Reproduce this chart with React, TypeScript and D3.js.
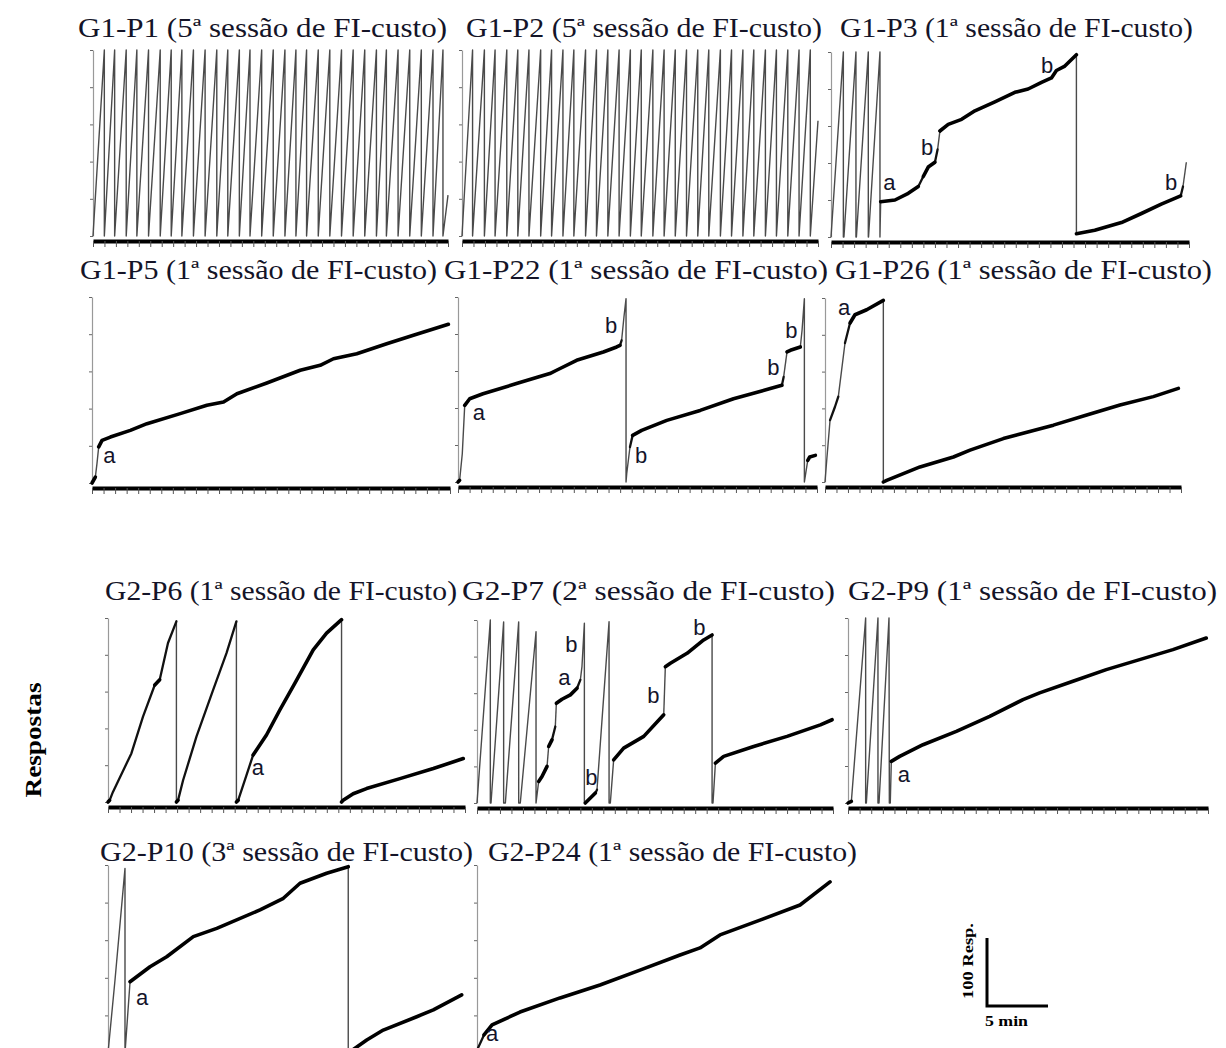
import { useEffect, useMemo, useRef } from 'react'
import * as d3 from 'd3'

const X_MAX = 31 // ticks on the time axis
const Y_MAX = 100 // pen height, % of the record

// FI baseline records: times at which the pen reset, and height of the last partial tooth
const p1Resets = [0.99, 1.89, 2.9, 3.83, 4.85, 5.87, 6.83, 7.76, 8.77, 9.79, 10.81, 11.77, 12.78, 13.71, 14.73, 15.74, 16.76, 17.72, 18.65, 19.67, 20.68, 21.7, 22.72, 23.73, 24.75, 25.62, 26.64, 27.66, 28.67, 29.69, 30.56]
const p1Tail = 22
const p2Resets = [0.92, 1.95, 2.88, 3.9, 4.86, 5.83, 6.85, 7.8, 8.79, 9.74, 10.76, 11.71, 12.7, 13.68, 14.66, 15.61, 16.62, 17.6, 18.57, 19.55, 20.53, 21.49, 22.5, 23.47, 24.46, 25.41, 26.42, 27.38, 28.37, 29.35, 30.33]
const p2Tail = 62

const p3Record = [[0, 0], [1.07, 100], [1.07, 0], [1.12, 0], [2.16, 100], [2.16, 0], [2.2, 0], [3.23, 100], [3.23, 0], [3.25, 0], [4.24, 100], [4.24, 0], [4.3, 19.1], [5.54, 20], [6.69, 23.6], [7.56, 27.3], [7.99, 32.7], [8.42, 37.8], [9.0, 40.4], [9.23, 47.3], [9.43, 57.3], [10.15, 60.9], [11.31, 63.6], [12.46, 68.2], [14.19, 73.1], [15.92, 78.2], [17.07, 80], [18.23, 83.6], [19.09, 86], [19.52, 90], [20.25, 92.4], [21.25, 98.5], [21.25, 1.8], [22.84, 3.6], [25.15, 7.8], [26.88, 12.7], [28.6, 17.8], [30.28, 22.2], [30.48, 27.3], [30.77, 40.4]]
const p5Record = [[0, 0], [0.29, 3.2], [0.43, 10.4], [0.58, 19.4], [0.87, 22.9], [1.59, 24.7], [3.32, 28.3], [4.76, 31.9], [7.64, 37.3], [9.95, 41.8], [11.39, 43.5], [12.55, 48], [15.14, 53.8], [18.03, 60.6], [19.76, 63.3], [20.91, 66.8], [22.93, 69.5], [25.52, 74.9], [27.83, 79.4], [30.86, 85.3]]
const p22Record = [[0, 0], [0.14, 0.9], [0.37, 15.3], [0.58, 41.4], [1.01, 45], [2.16, 47.7], [5.05, 53.2], [7.93, 58.6], [8.51, 60.4], [10.24, 65.8], [12.55, 70.3], [13.7, 73], [13.99, 73.9], [14.13, 76.6], [14.33, 89.2], [14.51, 99.1], [14.51, 0], [14.57, 4.5], [14.85, 18.9], [15.08, 25.2], [15.86, 27.9], [18.03, 33.3], [20.91, 38.7], [23.79, 45], [26.97, 50.5], [27.97, 52.3], [28.12, 56.8], [28.41, 70.3], [28.7, 71.2], [29.56, 73], [29.71, 82], [29.91, 99.1], [29.91, 0], [30.2, 11.7], [30.37, 13.5], [30.86, 14.4]]
const p26Record = [[0, 0], [0.15, 11.8], [0.44, 33.6], [0.87, 40.9], [1.16, 46.4], [1.45, 60.9], [1.74, 75.5], [2.18, 86.4], [2.61, 90.9], [3.63, 93.6], [5.08, 98.7], [5.08, 0], [5.37, 0.9], [8.27, 8.2], [11.18, 13.6], [12.63, 17.3], [15.53, 23.6], [19.89, 30.9], [22.79, 36.4], [25.69, 41.8], [28.59, 46.4], [30.77, 50.9]]
const p6Record = [[0, 0], [0.14, 0.9], [0.43, 5.5], [2.03, 26.4], [3.04, 46.4], [4.06, 63.6], [4.49, 66.4], [5.21, 86.4], [5.94, 98.2], [5.94, 0], [6.08, 0.9], [6.52, 11.8], [7.68, 35.5], [9.13, 60.9], [10.29, 80.9], [11.15, 98.2], [11.15, 0], [11.3, 0.9], [12.02, 14.5], [12.6, 25.5], [13.76, 36.4], [14.92, 50], [16.22, 64.5], [17.82, 82.7], [18.98, 91.8], [20.28, 99.1], [20.28, 0], [20.42, 0.9], [21.29, 4.5], [22.45, 7.3], [25.35, 12.7], [28.25, 18.2], [30.85, 23.6]]
const p7Record = [[0, 0], [1.16, 100], [1.16, 0], [1.22, 0], [2.32, 99], [2.32, 0], [2.47, 0], [3.63, 99], [3.63, 0], [3.77, 0], [5.14, 93.6], [5.14, 0], [5.37, 11.8], [5.66, 14.5], [6.1, 20], [6.24, 30.9], [6.53, 34.5], [6.82, 41.8], [6.91, 54.5], [7.4, 56.7], [8.13, 59.1], [8.71, 62.7], [9.0, 67.3], [9.14, 74.5], [9.35, 98.2], [9.35, 0], [9.43, 0], [9.87, 2.7], [10.31, 5.5], [10.45, 7.3], [11.5, 99.1], [11.5, 0], [11.61, 0], [11.9, 23.6], [12.77, 30], [14.52, 36.4], [16.26, 48.2], [16.4, 74.5], [16.84, 76.4], [18.29, 81.8], [19.74, 89.1], [20.47, 91.8], [20.47, 0], [20.55, 0], [20.76, 21.8], [21.48, 25.5], [24.09, 30.9], [27.0, 36.4], [29.9, 42.7], [30.92, 45.5]]
const p9Record = [[0, 0], [0.29, 0.9], [1.52, 100], [1.52, 0], [1.58, 0], [2.58, 100], [2.58, 0], [2.67, 0], [3.53, 100], [3.56, 0], [3.64, 0], [3.73, 22.5], [4.45, 25.2], [6.46, 31.5], [9.33, 38.7], [12.2, 46.8], [15.07, 55.9], [16.5, 59.5], [19.37, 65.8], [22.24, 72.1], [25.11, 77.5], [27.98, 82.9], [30.85, 89.2]]
const p10Record = [[0, 0], [0.61, 38.8], [1.48, 98.2], [1.48, 0], [1.92, 37.9], [3.66, 45.9], [5.11, 51.2], [7.43, 61.9], [9.47, 66.3], [13.24, 76.1], [15.27, 82.3], [16.72, 90.3], [19.04, 95.6], [20.92, 99.1], [20.92, 0], [22.53, 6.9], [23.97, 12.2], [26.88, 19.3], [28.33, 22.9], [30.8, 30.9]]
const p24Record = [[0, 0], [0.09, 2.7], [0.61, 9.6], [1.31, 14.9], [3.74, 21.8], [7.23, 29.3], [10.71, 36.2], [14.19, 44.1], [17.68, 52.1], [19.42, 55.9], [21.16, 62.8], [24.64, 70.7], [28.13, 78.7], [30.74, 91]]

// a / b annotations: [letter, time, height]
const p3Labels = [['a', 4.52, 25.3], ['b', 7.8, 44.2], ['b', 18.19, 88.6], ['b', 28.92, 25.3]]
const p5Labels = [['a', 0.98, 10.6]]
const p22Labels = [['a', 1.27, 33.4], ['b', 12.69, 80.4], ['b', 15.29, 10.1], ['b', 26.7, 57.7], ['b', 28.26, 77.7]]
const p26Labels = [['a', 1.13, 90.8]]
const p6Labels = [['a', 12.49, 14.6]]
const p7Labels = [['b', 7.69, 82.5], ['a', 7.08, 64.6], ['b', 9.43, 10], ['b', 14.83, 54.7], ['b', 18.84, 91.8]]
const p9Labels = [['a', 4.28, 11.5]]
const p10Labels = [['a', 2.44, 25.5]]
const p24Labels = [['a', 0.78, 6.2]]

const sawtooth = (resets, tail) => {
  const pts = [[0, 0]]
  resets.forEach((r) => {
    pts.push([r, Y_MAX])
    pts.push([r, 0])
  })
  pts.push([X_MAX, tail])
  return pts
}

const PANELS = [
  { title: 'G1-P1 (5ª sessão de FI-custo)', record: sawtooth(p1Resets, p1Tail), labels: [], box: { x0: 93, x1: 448, top: 50, base: 236 }, tb: { x: 78, y: 37, w: 369 } },
  { title: 'G1-P2 (5ª sessão de FI-custo)', record: sawtooth(p2Resets, p2Tail), labels: [], box: { x0: 462, x1: 818, top: 50, base: 236 }, tb: { x: 466, y: 37, w: 356 } },
  { title: 'G1-P3 (1ª sessão de FI-custo)', record: p3Record, labels: p3Labels, box: { x0: 831, x1: 1189, top: 52, base: 237 }, tb: { x: 840, y: 37, w: 353 } },
  { title: 'G1-P5 (1ª sessão de FI-custo)', record: p5Record, labels: p5Labels, box: { x0: 92, x1: 450, top: 297, base: 483 }, tb: { x: 80, y: 279, w: 357 } },
  { title: 'G1-P22 (1ª sessão de FI-custo)', record: p22Record, labels: p22Labels, box: { x0: 458, x1: 817, top: 297, base: 482 }, tb: { x: 444, y: 279, w: 384 } },
  { title: 'G1-P26 (1ª sessão de FI-custo)', record: p26Record, labels: p26Labels, box: { x0: 825, x1: 1181, top: 298, base: 482 }, tb: { x: 835, y: 279, w: 377 } },
  { title: 'G2-P6 (1ª sessão de FI-custo)', record: p6Record, labels: p6Labels, box: { x0: 108, x1: 465, top: 618, base: 802 }, tb: { x: 105, y: 600, w: 352 } },
  { title: 'G2-P7 (2ª sessão de FI-custo)', record: p7Record, labels: p7Labels, box: { x0: 477, x1: 833, top: 620, base: 803 }, tb: { x: 462, y: 600, w: 373 } },
  { title: 'G2-P9 (1ª sessão de FI-custo)', record: p9Record, labels: p9Labels, box: { x0: 848, x1: 1208, top: 618, base: 803 }, tb: { x: 848, y: 600, w: 369 } },
  { title: 'G2-P10 (3ª sessão de FI-custo)', record: p10Record, labels: p10Labels, box: { x0: 108, x1: 464, top: 865, base: 1053 }, tb: { x: 100, y: 861, w: 373 } },
  { title: 'G2-P24 (1ª sessão de FI-custo)', record: p24Record, labels: p24Labels, box: { x0: 477, x1: 833, top: 865, base: 1053 }, tb: { x: 488, y: 861, w: 369 } },
]

const STYLE = {
  steep: { stroke: '#4a4a4a', width: 1.4 },
  mid: { stroke: '#111', width: 2.3 },
  flat: { stroke: '#000', width: 3.6 },
}

const Panel = ({ title, record, labels, box, tb }) => {
  const axisXRef = useRef(null)
  const axisYRef = useRef(null)

  const xScale = useMemo(() => d3.scaleLinear().domain([0, X_MAX]).range([box.x0, box.x1]), [box])
  const yScale = useMemo(() => d3.scaleLinear().domain([0, Y_MAX]).range([box.base, box.top]), [box])

  useEffect(() => {
    const gx = d3.select(axisXRef.current)
    gx.selectAll('*').remove()
    gx.call(d3.axisBottom(xScale).ticks(X_MAX).tickSize(6).tickSizeOuter(0).tickFormat(() => ''))
    gx.select('.domain').attr('stroke', '#000').attr('stroke-width', 4)
    gx.selectAll('.tick line').attr('stroke', '#555')

    const gy = d3.select(axisYRef.current)
    gy.selectAll('*').remove()
    gy.call(d3.axisLeft(yScale).ticks(5).tickSize(3).tickSizeOuter(0).tickFormat(() => ''))
    gy.select('.domain').attr('stroke', '#999').attr('stroke-width', 1.2)
    gy.selectAll('.tick line').attr('stroke', '#666')
  }, [xScale, yScale])

  // split the record into runs by how steep the pen moves
  const runs = useMemo(() => {
    const out = []
    let cur = null
    for (let i = 1; i < record.length; i++) {
      const a = record[i - 1]
      const b = record[i]
      const dx = xScale(b[0]) - xScale(a[0])
      const dy = yScale(b[1]) - yScale(a[1])
      const slope = dx === 0 ? Infinity : Math.abs(dy / dx)
      const onFloor = a[1] === 0 && b[1] === 0
      const cls = slope > 5 || onFloor || b[1] < a[1] - 20 ? 'steep' : slope > 2 ? 'mid' : 'flat'
      if (cur && cur.cls === cls) cur.pts.push(b)
      else {
        cur = { cls, pts: [a, b] }
        out.push(cur)
      }
    }
    return out
  }, [record, xScale, yScale])

  const line = d3
    .line()
    .x((d) => xScale(d[0]))
    .y((d) => yScale(d[1]))

  const order = ['steep', 'mid', 'flat']

  return (
    <g>
      <text
        x={tb.x}
        y={tb.y}
        textLength={tb.w}
        lengthAdjust="spacingAndGlyphs"
        style={{ fontFamily: 'Liberation Serif', fontSize: '27px', fill: '#141428' }}
      >
        {title}
      </text>
      <g ref={axisYRef} transform={`translate(${box.x0},0)`} />
      <g ref={axisXRef} transform={`translate(0,${box.base + 5})`} />
      {order.map((cls) =>
        runs
          .filter((r) => r.cls === cls)
          .map((r, i) => (
            <path
              key={cls + i}
              d={line(r.pts)}
              fill="none"
              stroke={STYLE[cls].stroke}
              strokeWidth={STYLE[cls].width}
              strokeLinejoin="round"
              strokeLinecap={cls === 'steep' ? 'butt' : 'round'}
            />
          ))
      )}
      {labels.map((l, i) => (
        <text
          key={i}
          x={xScale(l[1])}
          y={yScale(l[2])}
          style={{ fontFamily: 'Liberation Sans', fontSize: '22px', fill: '#14142a' }}
        >
          {l[0]}
        </text>
      ))}
    </g>
  )
}

export default function App() {
  return (
    <svg
      width={1226}
      height={1048}
      style={{ position: 'absolute', left: 0, top: 0, background: '#fff' }}
    >
      <rect width="100%" height="100%" fill="#fff" />
      {PANELS.map((p, i) => (
        <Panel key={i} {...p} />
      ))}
      <text
        transform="translate(41,740) rotate(-90)"
        textAnchor="middle"
        textLength={115}
        lengthAdjust="spacingAndGlyphs"
        style={{ fontFamily: 'Liberation Serif', fontWeight: 'bold', fontSize: '24px', fill: '#000' }}
      >
        Respostas
      </text>
      {/* scale bar */}
      <path d="M987,938 V1006 H1048" fill="none" stroke="#000" strokeWidth={3} />
      <text
        transform="translate(973,961) rotate(-90)"
        textAnchor="middle"
        textLength={76}
        lengthAdjust="spacingAndGlyphs"
        style={{ fontFamily: 'Liberation Serif', fontWeight: 'bold', fontSize: '14px', fill: '#000' }}
      >
        100 Resp.
      </text>
      <text
        x={985}
        y={1026}
        textLength={43}
        lengthAdjust="spacingAndGlyphs"
        style={{ fontFamily: 'Liberation Serif', fontWeight: 'bold', fontSize: '14px', fill: '#000' }}
      >
        5 min
      </text>
    </svg>
  )
}
